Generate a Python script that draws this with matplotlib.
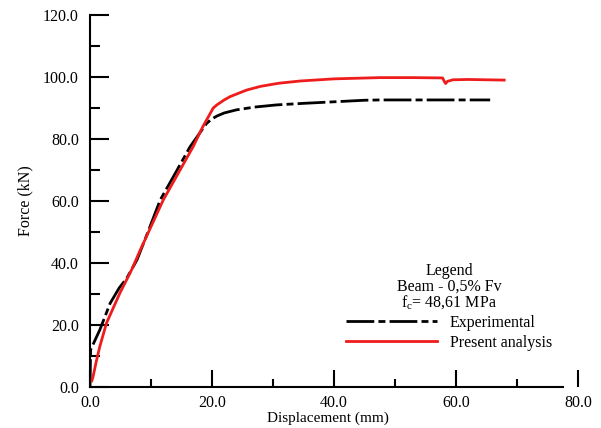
import matplotlib
matplotlib.use("Agg")
from matplotlib import pyplot as plt
from matplotlib.ticker import MultipleLocator, FormatStrFormatter

# experimental curve (black dash-dot)
exp_x = [0, 0.1, 0.8, 1.6, 3.3, 4.8, 6.0, 7.7, 9.5, 11.5, 14.0, 16.4, 18.2, 19.1,
         20.0, 20.8, 22.0, 24.0, 27.0, 30.6, 35.0, 40.0, 45.0, 47.5, 55.0, 65.6]
exp_y = [0, 12, 15, 18.4, 27, 32, 35, 41, 50, 60.3, 69, 77.5, 82.5, 85,
         86.5, 87.4, 88.4, 89.4, 90.3, 91, 91.5, 92.0, 92.5, 92.6, 92.6, 92.6]

# present analysis (red)
red_x = [0.3, 0.5, 1.0, 1.6, 2.7, 4.9, 6.8, 8.2, 12.0, 16.9, 18.5, 19.5, 20.2, 20.8,
         22.0, 23.0, 25.7, 28.0, 31.0, 34.4, 40.0, 47.5, 53.0, 57.8, 58.1, 58.3,
         58.6, 59.5, 62.0, 67.9]
red_y = [2, 3.3, 8, 13, 20.6, 30.3, 37.7, 44, 60.3, 77.5, 84, 87.5, 90, 91,
         92.6, 93.7, 95.8, 97.0, 98.0, 98.7, 99.4, 99.8, 99.8, 99.7, 98.5, 97.9,
         98.6, 99.1, 99.2, 99.0]

legend_title = "Legend\nBeam - 0,5% Fv\nf$_\\mathregular{c}$= 48,61 MPa"
labels = ["Experimental", "Present analysis"]

plt.rcParams["font.family"] = "Liberation Serif"
plt.rcParams["mathtext.fontset"] = "custom"
plt.rcParams["mathtext.rm"] = "Liberation Serif"

fig = plt.figure(figsize=(6.01, 4.28), dpi=100)
ax = fig.add_axes([90/601, 1 - 387/428, (578 - 90)/601, (387 - 15)/428])

ax.plot(exp_x, exp_y, color="black", lw=2.0, linestyle=(0, (10, 1.5, 2.5, 1.5)),
        label=labels[0])
ax.plot(red_x, red_y, color="#ee1c1c", lw=2.0, label=labels[1])

ax.set_xlim(0, 80)
ax.set_ylim(0, 120)
ax.spines["top"].set_visible(False)
ax.spines["right"].set_visible(False)
ax.spines["left"].set_linewidth(1.5)
ax.spines["bottom"].set_linewidth(1.5)
ax.spines["bottom"].set_bounds(0, 77.6)

ax.xaxis.set_major_locator(MultipleLocator(20))
ax.xaxis.set_minor_locator(MultipleLocator(10))
ax.yaxis.set_major_locator(MultipleLocator(20))
ax.yaxis.set_minor_locator(MultipleLocator(10))
ax.xaxis.set_major_formatter(FormatStrFormatter("%.1f"))
ax.yaxis.set_major_formatter(FormatStrFormatter("%.1f"))
ax.tick_params(axis="x", which="major", direction="in", length=12, width=1.5,
               labelsize=11.5, pad=5.5)
ax.tick_params(axis="x", which="minor", direction="in", length=6, width=1.5)
ax.tick_params(axis="y", which="major", direction="in", length=14, width=1.5,
               labelsize=11.5, pad=8)
ax.tick_params(axis="y", which="minor", direction="in", length=7.5, width=1.5)
# the bottom spine stops short of 80, so no tick there
for t in ax.xaxis.get_major_ticks():
    if abs(t.get_loc() - 80) < 1e-6:
        t.tick1line.set_visible(False)

ax.set_xlabel("Displacement (mm)", fontsize=11)
ax.xaxis.set_label_coords((328 - 90)/(578 - 90), -0.066)
ax.set_ylabel("Force (kN)", fontsize=11.5)
ax.yaxis.set_label_coords(-0.115, 0.5)

leg = ax.legend(title=legend_title, loc="lower left", frameon=False,
                bbox_to_anchor=(346/601, 1 - 351/428), bbox_transform=fig.transFigure,
                fontsize=11.5, title_fontsize=11.5, handlelength=5.7,
                handletextpad=0.8, borderpad=0, borderaxespad=0, labelspacing=0.25)
leg.get_title().set_multialignment("center")
leg.get_title().set_linespacing(0.95)
leg._legend_box.sep = 2

fig.savefig("out.png", dpi=100)
